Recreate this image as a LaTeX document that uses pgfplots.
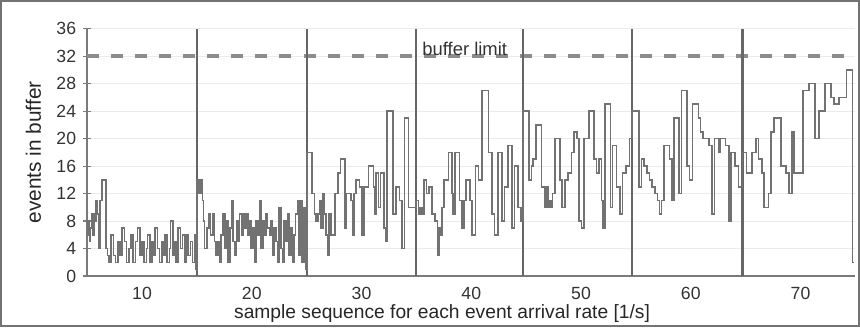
\documentclass[border=0pt]{standalone}
\usepackage{pgfplots}
\pgfplotsset{compat=1.18}
\usepackage{fontspec}
\setmainfont{Liberation Sans}
\definecolor{dataline}{HTML}{727272}
\definecolor{vline}{HTML}{666666}
\definecolor{dashc}{HTML}{8C8C8C}
\definecolor{axisc}{HTML}{7A7A7A}
\begin{document}
\begin{tikzpicture}
\begin{axis}[
  scale only axis, width=383.5pt, height=123.5pt,
  xmin=5, xmax=75, ymin=0, ymax=36,
  axis x line*=bottom, axis y line*=left,
  axis line style={draw=axisc, line width=0.9pt, -},
  clip=false,
  ytick={0,4,...,36},
  xtick={10,20,...,70},
  x tick style={draw=none},
  y tick style={draw=axisc, line width=0.6pt},
  tick align=center, major tick length=4pt,
  ymajorgrids, grid style={draw=black!8, line width=0.4pt},
  /pgf/number format/assume math mode=true,
  tick label style={font=\fontsize{8.8}{10}\selectfont, text=black!80},
  xticklabel style={yshift=0pt},
  xlabel={sample sequence for each event arrival rate [1/s]},
  ylabel={events in buffer},
  label style={font=\fontsize{9.6}{11}\selectfont, text=black!85},
  xlabel style={at={(axis description cs:0.462,-0.15)}, anchor=center},
  ylabel style={at={(axis description cs:-0.07,0.5)}, anchor=center, font=\fontsize{10.4}{12}\selectfont},
]
% buffer limit
\addplot[dashc, line width=1.8pt, dash pattern=on 6pt off 6pt] coordinates {(5,32) (75,32)};
% section separators
\addplot[vline, line width=1.3pt] coordinates {(15,0) (15,36)};
\addplot[vline, line width=1.3pt] coordinates {(25.05,0) (25.05,36)};
\addplot[vline, line width=1.3pt] coordinates {(34.95,0) (34.95,36)};
\addplot[vline, line width=1.3pt] coordinates {(44.7,0) (44.7,36)};
\addplot[vline, line width=1.3pt] coordinates {(54.65,0) (54.65,36)};
\addplot[vline, line width=1.3pt] coordinates {(64.7,0) (64.7,36)};
% events in buffer
\addplot[const plot, dataline, line width=0.8pt] coordinates {
(5.0,6)(5.1,8)(5.2,5)(5.3,7)(5.4,9)(5.5,6)(5.6,9)(5.7,8)(5.8,11)(5.95,9)(6.05,4)(6.15,11)(6.37,14)(6.73,4)(6.85,3)
(7.0,2)(7.2,6)(7.4,3)(7.6,2)(7.8,5)(8.0,3)(8.2,7)(8.4,5)(8.6,2)(8.8,4)(9.0,6)(9.2,2)(9.4,5)(9.6,7)(9.8,3)(10.0,5)(10.2,2)(10.4,4)(10.5,6)(10.7,2)(10.9,5)(11.1,3)(11.2,7)(11.4,4)(11.6,2)(11.8,5)(12.0,3)(12.1,6)(12.3,2)(12.5,4)(12.6,8)(12.8,3)(13.0,5)(13.1,2)(13.3,7)(13.5,4)(13.7,6)(13.9,2)(14.0,6)(14.2,3)(14.4,5)(14.6,2)(14.8,6)(14.92,1)
(15.0,14)(15.2,12)(15.35,14)(15.5,11)(15.6,8)(15.7,4)(15.9,7)(16.1,9)(16.25,6)(16.45,9)(16.6,5)(16.75,3)(16.9,5)(17.05,2)(17.2,6)(17.4,9)(17.55,4)(17.7,8)(17.85,2)(18.0,7)(18.15,11)(18.3,5)(18.45,3)(18.6,8)(18.75,5)(18.9,9)(19.05,6)(19.2,9)(19.35,7)(19.5,9)(19.65,6)(19.8,8)(19.95,4)(20.1,7)(20.25,2)(20.4,8)(20.55,6)(20.7,11)(20.85,4)(21.0,8)(21.15,6)(21.3,9)(21.45,7)(21.6,6)(21.75,8)(21.9,3)(22.05,7)(22.2,5)(22.35,2)(22.5,10)(22.65,4)(22.8,2)(22.95,8)(23.1,5)(23.25,9)(23.4,3)(23.55,7)(23.7,2)(23.85,6)(24.0,9)(24.15,11)(24.3,3)(24.45,11)(24.6,2)(24.75,10)(24.9,1)
(25.05,18)(25.47,12)(25.71,9)(25.86,8)(26.02,9)(26.17,11)(26.32,7)(26.47,12)(26.62,9)(26.78,6)(26.93,3)(27.02,9)(27.23,6)(27.60,12)(27.84,15)(28.08,17)(28.51,7)(28.63,12)(29.06,11)(29.18,6)(29.30,12)(29.51,14)(29.82,13)(30.03,6)(30.21,13)(30.64,16)(31.10,13)(31.19,9)(31.34,15)(31.55,10)(31.73,15)(32.04,7)(32.19,5)(32.34,24)(32.86,9)(33.16,13)(33.47,11)(33.68,4)(33.92,23)(34.29,10)(34.68,10)
(34.95,11)(35.20,9)(35.32,10)(35.50,9)(35.71,14)(35.93,12)(36.17,13)(36.41,9)(36.72,8)(36.93,3)(37.08,7)(37.20,6)(37.33,10)(37.54,14)(37.93,18)(38.24,12)(38.36,9)(38.54,18)(38.91,11)(39.15,7)(39.36,11)(39.52,14)(39.88,11)(40.06,6)(40.37,16)(40.67,14)(40.98,27)(41.58,18)(41.89,9)(42.10,6)(42.41,18)(42.80,8)(43.04,13)(43.32,19)(43.71,7)(43.93,16)(44.23,10)(44.53,8)
(44.72,24)(45.27,14)(45.48,16)(45.64,17)(45.88,22)(46.40,13)(46.70,10)(46.85,13)(46.97,10)(47.10,11)(47.25,10)(47.40,12)(47.64,20)(48.07,14)(48.25,10)(48.53,14)(48.83,15)(49.13,18)(49.38,21)(49.65,20)(49.83,8)(50.05,7)(50.26,20)(50.75,24)(51.17,17)(51.42,15)(51.66,17)(51.87,11)(52.02,7)(52.18,25)(52.69,10)(52.87,19)(53.24,13)(53.54,9)(53.79,15)(54.09,16)(54.40,20)
(54.66,24)(55.27,13)(55.52,17)(55.73,16)(56.03,15)(56.25,14)(56.49,13)(56.73,12)(56.95,11)(57.16,9)(57.34,11)(57.55,19)(58.07,17)(58.31,11)(58.47,23)(58.92,12)(59.17,27)(59.68,16)(59.90,14)(60.14,25)(60.69,23)(60.90,21)(61.11,20)(61.66,19)(61.96,9)(62.15,20)(62.57,18)(62.72,20)(63.18,19)(63.48,8)(63.67,18)(64.03,16)(64.34,13)
(64.72,18)(65.07,15)(65.56,18)(65.92,20)(66.16,17)(66.47,15)(66.68,10)(67.08,12)(67.29,21)(67.59,23)(68.20,16)(68.66,15)(68.96,12)(69.21,21)(69.42,15)(70.24,27)(70.79,28)(71.33,20)(71.70,24)(72.25,28)(72.76,26)(73.07,25)(73.52,26)(74.19,30)(74.74,2)(74.9,2)
};
\node[font=\fontsize{9.2}{10}\selectfont, text=black!80] at (axis cs:39.4,33.0) {buffer limit};
\draw[draw=black!55, line width=1pt] ([shift={(-43pt,-25pt)}]rel axis cs:0,0) rectangle ([shift={(1.8pt,13.8pt)}]rel axis cs:1,1);
\end{axis}
\end{tikzpicture}
\end{document}
